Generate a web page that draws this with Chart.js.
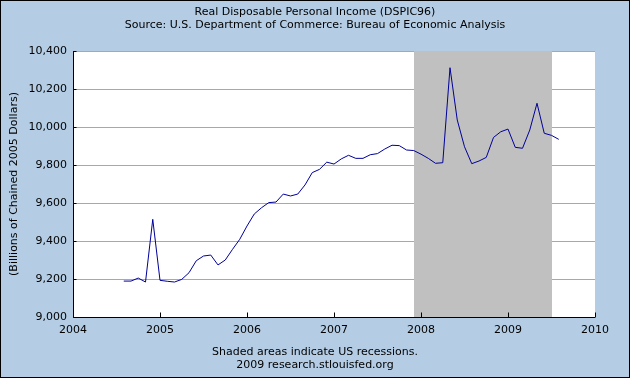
<!DOCTYPE html>
<html>
<head>
<meta charset="utf-8">
<script src="https://cdn.jsdelivr.net/npm/chart.js@4"></script>
<style>
html,body{margin:0;padding:0;background:#B4CDE4;}
canvas{display:block;}
</style>
</head>
<body>
<canvas id="c" width="630" height="378"></canvas>
<script>
// ---- data ----
const startYear = 2004;
const startMonth = 8; // August 2004, monthly observations
const dspi = [
  9189, 9189, 9205, 9184, 9514,
  9193, 9188, 9184, 9198, 9233, 9296, 9321, 9326, 9274, 9300, 9356, 9409,
  9479, 9542, 9575, 9602, 9605, 9647, 9637, 9647, 9695, 9760, 9777, 9815,
  9805, 9832, 9851, 9835, 9835, 9854, 9860, 9884, 9904, 9902, 9879, 9876,
  9857, 9835, 9809, 9812, 10312, 10037, 9896, 9807, 9821, 9840, 9945, 9975,
  9989, 9893, 9888, 9984, 10125, 9967, 9956, 9935
];
const yearTicks = [2004, 2005, 2006, 2007, 2008, 2009, 2010];
const valueTicks = [9000, 9200, 9400, 9600, 9800, 10000, 10200, 10400];
const recessions = [[2007 + 11/12, 2009 + 6/12]]; // Dec 2007 - Jun 2009
const titleLines = ["Real Disposable Personal Income (DSPIC96)",
                    "Source: U.S. Department of Commerce: Bureau of Economic Analysis"];
const footerLines = ["Shaded areas indicate US recessions.", "2009 research.stlouisfed.org"];
const yTitle = "(Billions of Chained 2005 Dollars)";

// month positions (decimal years)
const points = dspi.map((v, i) => {
  const m = startMonth - 1 + i;
  return { x: startYear + Math.floor(m / 12) + (m % 12) / 12, y: v };
});

const FONT = "11px 'DejaVu Sans', Verdana, sans-serif";
const BG = '#B4CDE4';

const decor = {
  id: 'decor',
  beforeDraw(chart) {
    const { ctx, chartArea: a } = chart;
    ctx.save();
    ctx.fillStyle = BG;
    ctx.fillRect(0, 0, chart.width, chart.height);
    ctx.fillStyle = '#FFFFFF';
    ctx.fillRect(a.left, a.top, a.right - a.left, a.bottom - a.top);
    ctx.restore();
  },
  beforeDatasetsDraw(chart) {
    const { ctx, chartArea: a, scales: { x } } = chart;
    ctx.save();
    ctx.fillStyle = '#C0C0C0';
    recessions.forEach(([s, e]) => {
      const x0 = Math.round(x.getPixelForValue(s));
      const x1 = Math.round(x.getPixelForValue(e));
      ctx.fillRect(x0, a.top, x1 - x0, a.bottom - a.top);
    });
    ctx.restore();
  },
  afterDatasetsDraw(chart) {
    const { ctx, chartArea: a, scales: { x, y } } = chart;
    ctx.save();
    ctx.strokeStyle = '#000000';
    ctx.lineWidth = 1;
    ctx.beginPath();
    const L = Math.round(a.left) + 0.5, B = Math.round(a.bottom) + 0.5;
    ctx.moveTo(L, Math.round(a.top));
    ctx.lineTo(L, B);
    ctx.lineTo(Math.round(a.right), B);
    yearTicks.forEach(t => {
      const px = Math.round(x.getPixelForValue(t)) + 0.5;
      ctx.moveTo(px, B);
      ctx.lineTo(px, B - 5);
    });
    valueTicks.forEach(t => {
      const py = Math.round(y.getPixelForValue(t)) + 0.5;
      ctx.moveTo(L, py);
      ctx.lineTo(L + 3, py);
    });
    ctx.stroke();
    ctx.restore();
  },
  afterDraw(chart) {
    const { ctx, chartArea: a } = chart;
    ctx.save();
    ctx.fillStyle = '#000000';
    ctx.font = FONT;
    ctx.textAlign = 'center';
    ctx.textBaseline = 'middle';
    ctx.fillText(titleLines[0], 315, 12);
    ctx.fillText(titleLines[1], 315, 25);
    ctx.fillText(footerLines[0], 315, 352);
    ctx.fillText(footerLines[1], 315, 365);
    ctx.translate(14, (a.top + a.bottom) / 2);
    ctx.rotate(-Math.PI / 2);
    ctx.fillText(yTitle, 0, 0);
    ctx.restore();
    ctx.save();
    ctx.strokeStyle = '#000000';
    ctx.strokeRect(0.5, 0.5, chart.width - 1, chart.height - 1);
    ctx.restore();
  }
};

new Chart(document.getElementById('c'), {
  type: 'line',
  data: {
    datasets: [{
      data: points,
      borderColor: '#000099',
      borderWidth: 1,
      pointRadius: 0,
      tension: 0,
      fill: false
    }]
  },
  options: {
    responsive: false,
    animation: false,
    devicePixelRatio: 1,
    layout: { padding: { left: 0, top: 51, right: 35, bottom: 0 } },
    plugins: { legend: { display: false }, tooltip: { enabled: false }, title: { display: false } },
    scales: {
      x: {
        type: 'linear',
        min: 2004, max: 2010,
        afterFit(s) { s.height = 61; },
        afterBuildTicks(s) { s.ticks = yearTicks.map(v => ({ value: v })); },
        ticks: { color: '#000', font: { family: "'DejaVu Sans', Verdana, sans-serif", size: 11 },
                 padding: 7, maxRotation: 0, autoSkip: false, callback: v => String(v) },
        grid: { display: false, drawTicks: false },
        border: { display: false }
      },
      y: {
        min: 9000, max: 10400,
        afterFit(s) { s.width = 73; },
        afterBuildTicks(s) { s.ticks = valueTicks.map(v => ({ value: v })); },
        ticks: { color: '#000', font: { family: "'DejaVu Sans', Verdana, sans-serif", size: 11 },
                 padding: 6, callback: v => v.toLocaleString('en-US') },
        grid: { color: '#A8A8A8', drawTicks: false, lineWidth: 1 },
        border: { display: false }
      }
    }
  },
  plugins: [decor]
});
</script>
</body>
</html>
